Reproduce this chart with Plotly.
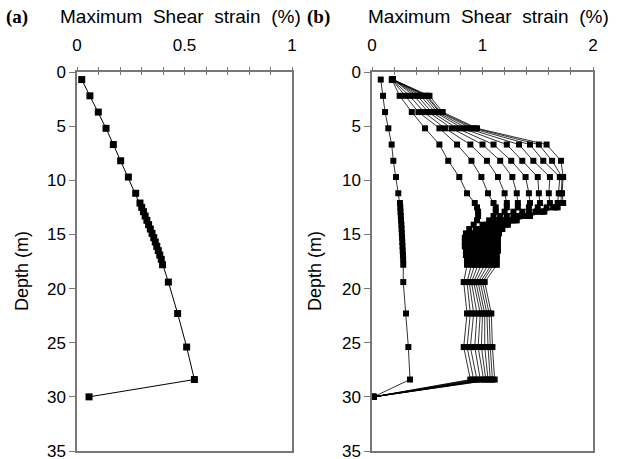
import plotly.graph_objects as go

# ---------------- data ----------------
depth = [0.7, 2.2, 3.7, 5.2, 6.7, 8.2, 9.7, 11.2,
         12.1, 12.5, 12.9, 13.3, 13.7, 14.1, 14.5, 14.9, 15.3, 15.7, 16.1, 16.5, 16.9, 17.3, 17.8,
         19.4, 22.3, 25.4, 28.4, 30.0]

strain_a = [0.022, 0.060, 0.099, 0.135, 0.169, 0.203, 0.239, 0.273,
            0.293, 0.301, 0.309, 0.317, 0.325, 0.333, 0.341, 0.349, 0.357, 0.364, 0.371, 0.378, 0.385, 0.392, 0.398,
            0.425, 0.468, 0.510, 0.546, 0.056]

strain_b0 = [0.079, 0.100, 0.118, 0.148, 0.178, 0.193, 0.217, 0.238,
             0.253, 0.256, 0.258, 0.261, 0.263, 0.266, 0.268, 0.270, 0.272, 0.274, 0.276, 0.278, 0.280, 0.282, 0.283,
             0.283, 0.308, 0.329, 0.344, 0.012]

strain_b1 = [0.18, 0.25, 0.36, 0.48, 0.61, 0.69, 0.79, 0.86,
             0.93, 0.95, 0.96, 0.96, 0.95, 0.92, 0.88, 0.85, 0.84, 0.84, 0.84, 0.85, 0.85, 0.86, 0.86,
             0.83, 0.86, 0.83, 0.89, 0.012]
strain_b2 = [0.18, 0.30, 0.42, 0.61, 0.77, 0.90, 0.99, 1.05,
             1.10, 1.12, 1.12, 1.10, 1.06, 1.00, 0.94, 0.90, 0.88, 0.88, 0.88, 0.89, 0.89, 0.90, 0.90,
             0.86, 0.89, 0.86, 0.92, 0.012]
strain_b3 = [0.18, 0.34, 0.47, 0.66, 0.89, 1.04, 1.14, 1.20,
             1.22, 1.22, 1.20, 1.16, 1.10, 1.04, 0.98, 0.94, 0.92, 0.91, 0.91, 0.92, 0.92, 0.93, 0.93,
             0.88, 0.92, 0.89, 0.95, 0.012]
strain_b4 = [0.19, 0.38, 0.51, 0.72, 1.00, 1.16, 1.27, 1.31,
             1.32, 1.32, 1.28, 1.22, 1.15, 1.08, 1.02, 0.98, 0.96, 0.95, 0.95, 0.95, 0.95, 0.96, 0.96,
             0.90, 0.95, 0.93, 0.98, 0.012]
strain_b5 = [0.19, 0.41, 0.54, 0.77, 1.10, 1.26, 1.39, 1.42,
             1.43, 1.42, 1.36, 1.28, 1.19, 1.11, 1.05, 1.01, 0.99, 0.98, 0.98, 0.98, 0.98, 0.99, 0.99,
             0.92, 0.98, 0.96, 1.01, 0.012]
strain_b6 = [0.19, 0.44, 0.57, 0.82, 1.22, 1.36, 1.50, 1.51,
             1.52, 1.50, 1.42, 1.32, 1.22, 1.14, 1.08, 1.04, 1.02, 1.01, 1.01, 1.01, 1.01, 1.02, 1.02,
             0.94, 1.00, 0.99, 1.03, 0.012]
strain_b7 = [0.19, 0.47, 0.59, 0.86, 1.33, 1.46, 1.61, 1.60,
             1.61, 1.58, 1.48, 1.36, 1.25, 1.17, 1.11, 1.07, 1.05, 1.04, 1.04, 1.04, 1.04, 1.05, 1.05,
             0.96, 1.02, 1.02, 1.05, 0.012]
strain_b8 = [0.19, 0.49, 0.61, 0.90, 1.43, 1.55, 1.70, 1.69,
             1.68, 1.64, 1.52, 1.39, 1.27, 1.19, 1.13, 1.09, 1.07, 1.07, 1.07, 1.07, 1.07, 1.08, 1.08,
             0.98, 1.04, 1.05, 1.07, 0.012]
strain_b9 = [0.19, 0.50, 0.62, 0.93, 1.51, 1.63, 1.72, 1.71,
             1.71, 1.66, 1.54, 1.41, 1.29, 1.21, 1.15, 1.12, 1.10, 1.10, 1.10, 1.10, 1.10, 1.10, 1.10,
             1.00, 1.06, 1.07, 1.09, 0.012]
strain_b10 = [0.19, 0.52, 0.64, 0.95, 1.58, 1.71, 1.73, 1.72,
              1.73, 1.68, 1.56, 1.43, 1.31, 1.23, 1.18, 1.15, 1.14, 1.14, 1.14, 1.14, 1.13, 1.13, 1.13,
              1.02, 1.08, 1.09, 1.11, 0.012]

series_b = [strain_b0, strain_b1, strain_b2, strain_b3, strain_b4, strain_b5,
            strain_b6, strain_b7, strain_b8, strain_b9, strain_b10]

xticks_a = [0, 0.5, 1]
xtext_a = ["0", "0.5", "1"]
xticks_b = [0, 1, 2]
xtext_b = ["0", "1", "2"]
yticks = [0, 5, 10, 15, 20, 25, 30, 35]

# ---------------- figure ----------------
W, H = 619, 459
FONT = "Liberation Sans, Arial, sans-serif"
AXC = "#777777"

fig = go.Figure()

fig.add_trace(go.Scatter(x=strain_a, y=depth, mode="lines+markers", xaxis="x", yaxis="y",
                         line=dict(color="black", width=1),
                         marker=dict(symbol="square", size=7, color="black"),
                         showlegend=False))
for s in series_b:
    fig.add_trace(go.Scatter(x=s, y=depth, mode="lines+markers", xaxis="x2", yaxis="y2",
                             line=dict(color="black", width=0.8),
                             marker=dict(symbol="square", size=6, color="black"),
                             showlegend=False))


def px(v):
    return v / W


def py(v):
    return 1 - v / H


dom_a = [px(77), px(292)]
dom_b = [px(372), px(593)]
dom_y = [py(451), py(72)]

xcommon = dict(side="top", showline=True, linecolor=AXC, linewidth=1.5, mirror=True,
               ticks="outside", ticklen=3, tickcolor=AXC, showgrid=False, zeroline=False,
               automargin=False, ticklabelstandoff=9,
               tickfont=dict(family=FONT, size=17, color="black"))
xinner = dict(side="top", showline=False, ticks="inside", ticklen=3, tickcolor=AXC,
              showgrid=False, zeroline=False, showticklabels=False, automargin=False)
ycommon = dict(range=[35, 0], tickvals=yticks, showline=True, linecolor=AXC, linewidth=1.5,
               mirror=True, ticks="outside", ticklen=6, tickcolor=AXC, showgrid=False,
               zeroline=False, automargin=False, ticklabeloverflow="allow",
               tickfont=dict(family=FONT, size=17, color="black"))

fig.update_layout(
    width=W, height=H, margin=dict(l=0, r=0, t=0, b=0),
    paper_bgcolor="white", plot_bgcolor="white",
    xaxis=dict(domain=dom_a, range=[0, 1], tickvals=xticks_a, ticktext=xtext_a,
               anchor="y", minor=dict(dtick=0.1, ticks="outside", ticklen=3, tickcolor=AXC),
               **xcommon),
    yaxis=dict(domain=dom_y, anchor="x", **ycommon),
    xaxis2=dict(domain=dom_b, range=[0, 2], tickvals=xticks_b, ticktext=xtext_b,
                anchor="y2", minor=dict(dtick=0.2, ticks="outside", ticklen=3, tickcolor=AXC),
                **xcommon),
    yaxis2=dict(domain=dom_y, anchor="x2", **ycommon),
    xaxis3=dict(overlaying="x", anchor="y", range=[0, 1], tickvals=xticks_a,
                minor=dict(dtick=0.1, ticks="inside", ticklen=3, tickcolor=AXC), **xinner),
    xaxis4=dict(overlaying="x2", anchor="y2", range=[0, 2], tickvals=xticks_b,
                minor=dict(dtick=0.2, ticks="inside", ticklen=3, tickcolor=AXC), **xinner),
)
# invisible traces so the inner-tick overlay axes are drawn
fig.add_trace(go.Scatter(x=[0], y=[0], xaxis="x3", yaxis="y", mode="markers",
                         marker=dict(opacity=0), hoverinfo="skip", showlegend=False))
fig.add_trace(go.Scatter(x=[0], y=[0], xaxis="x4", yaxis="y2", mode="markers",
                         marker=dict(opacity=0), hoverinfo="skip", showlegend=False))

ann_font = dict(family=FONT, size=19, color="black")
ylab_font = dict(family=FONT, size=18, color="black")
lab_font = dict(family="Liberation Serif, Times New Roman, serif", size=19, color="black")
fig.add_annotation(x=px(4), y=py(17), xref="paper", yref="paper", text="<b>(a)</b>",
                   showarrow=False, xanchor="left", yanchor="middle", font=lab_font)
fig.add_annotation(x=px(180), y=py(17), xref="paper", yref="paper",
                   text="Maximum  Shear  strain  (%)", showarrow=False,
                   xanchor="center", yanchor="middle", font=ann_font)
fig.add_annotation(x=px(305), y=py(17), xref="paper", yref="paper", text="<b>(b)</b>",
                   showarrow=False, xanchor="left", yanchor="middle", font=lab_font)
fig.add_annotation(x=px(488), y=py(17), xref="paper", yref="paper",
                   text="Maximum  Shear  strain  (%)", showarrow=False,
                   xanchor="center", yanchor="middle", font=ann_font)
fig.add_annotation(x=px(22), y=py(271), xref="paper", yref="paper", text="Depth (m)",
                   showarrow=False, textangle=-90, xanchor="center", yanchor="middle",
                   font=ylab_font)
fig.add_annotation(x=px(315), y=py(271), xref="paper", yref="paper", text="Depth (m)",
                   showarrow=False, textangle=-90, xanchor="center", yanchor="middle",
                   font=ylab_font)

fig.write_html("out.html", post_script="document.body.style.margin='0';")
